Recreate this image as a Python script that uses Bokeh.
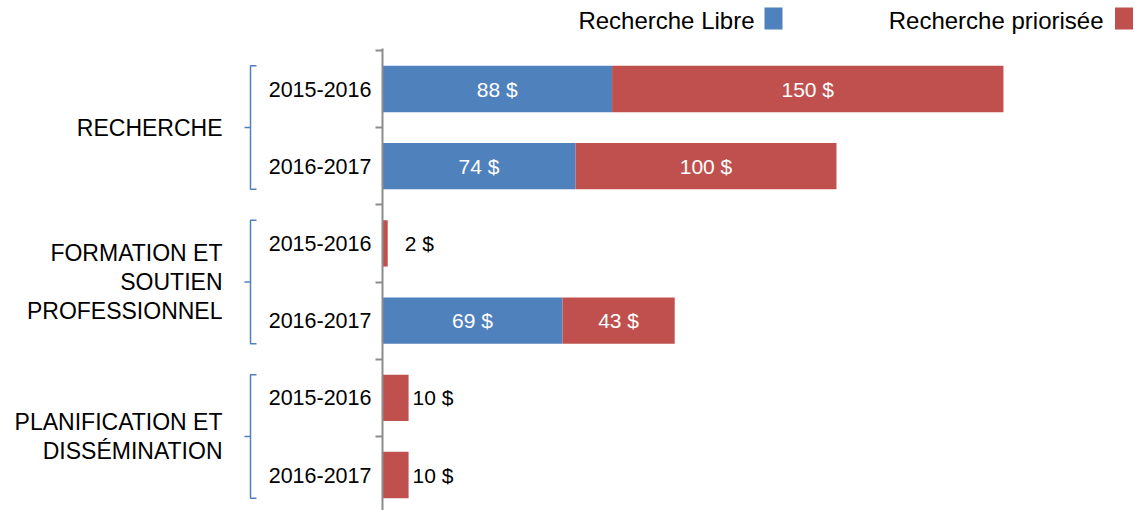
from bokeh.plotting import figure
from bokeh.models import Range1d, LinearAxis, FixedTicker, ColumnDataSource
from bokeh.core.properties import value
from bokeh.embed import file_html
from bokeh.resources import INLINE

# ---- data ----
groups = ["RECHERCHE", "FORMATION ET\nSOUTIEN\nPROFESSIONNEL", "PLANIFICATION ET\nDISSÉMINATION"]
years = ["2015-2016", "2016-2017", "2015-2016", "2016-2017", "2015-2016", "2016-2017"]
libre = [88, 74, 0, 69, 0, 0]
priorisee = [150, 100, 2, 43, 10, 10]
series = ["Recherche Libre", "Recherche priorisée"]
colors = ["#4F81BD", "#C0504D"]

# ---- layout constants (figure pixels) ----
W, H = 1135, 510
K = 2.609      # px per value unit
ROW = 77.2     # px per category row
X0PX = 382     # px of value 0
Y0PX = 88.5    # px of first row centre
FONT = value("Liberation Sans")


def dx(px):
    return (px - X0PX) / K


def dy(py):
    return (py - Y0PX) / ROW


p = figure(width=W, height=H, x_range=Range1d(dx(0), dx(W)), y_range=Range1d(dy(H), dy(0)),
           output_backend="svg", toolbar_location=None, x_axis_location=None,
           y_axis_location=None, min_border=0, outline_line_color=None)
p.xgrid.grid_line_color = None
p.ygrid.grid_line_color = None
p.background_fill_color = "white"

rows = list(range(len(years)))
totals = [a + b for a, b in zip(libre, priorisee)]
src = ColumnDataSource(dict(y=rows, libre=libre, total=totals))
p.hbar(y="y", left=0, right="libre", height=0.6, fill_color=colors[0], line_color=None, source=src)
p.hbar(y="y", left="libre", right="total", height=0.6, fill_color=colors[1], line_color=None, source=src)

# value labels
in_x, in_y, in_t = [], [], []
out_x, out_y, out_t = [], [], []
for i in rows:
    segs = [(0, libre[i]), (libre[i], totals[i])]
    for (a, b) in segs:
        v = b - a
        if v <= 0:
            continue
        if v >= 20:
            in_x.append((a + b) / 2); in_y.append(i); in_t.append(f"{v} $")
        else:
            out_x.append(max(b, 7)); out_y.append(i); out_t.append(f"{v} $")
p.text(x=in_x, y=in_y, text=in_t, text_font=FONT, text_font_size="21px", text_color="white",
       text_align="center", text_baseline="middle")
p.text(x=out_x, y=out_y, text=out_t, text_font=FONT, text_font_size="21px", text_color="black",
       text_align="left", text_baseline="middle", x_offset=4)

# category axis
ax = LinearAxis(fixed_location=0,
                ticker=FixedTicker(ticks=rows, minor_ticks=[r - 0.5 for r in rows] + [rows[-1] + 0.5]),
                major_label_overrides={i: years[i] for i in rows},
                bounds=(-0.52, dy(H)))
ax.axis_line_color = "#8C8C8C"
ax.axis_line_width = 2
ax.major_tick_line_color = None
ax.major_tick_in = 0
ax.major_tick_out = 0
ax.minor_tick_line_color = "#8C8C8C"
ax.minor_tick_line_width = 2
ax.minor_tick_in = 0
ax.minor_tick_out = 7
ax.major_label_standoff = 4
ax.major_label_text_font = "Liberation Sans"
ax.major_label_text_font_size = "21.5px"
ax.major_label_text_color = "black"
p.add_layout(ax, "left")

# group labels and brackets
gc = [(2 * g + 2 * g + 1) / 2 for g in range(len(groups))]
p.text(x=[dx(222)] * len(groups), y=gc, text=groups, text_font=FONT, text_font_size="23px",
       text_color="black", text_align="right", text_baseline="middle", text_line_height=1.1)
vx, hx, mx = dx(250), dx(256), dx(244)
xs, ys = [], []
for c in gc:
    xs.append([hx, vx, vx, hx]); ys.append([c - 0.8, c - 0.8, c + 0.8, c + 0.8])
p.multi_line(xs=xs, ys=ys, line_color="#4F81BD", line_width=1.5)
p.segment(x0=[mx] * len(gc), y0=gc, x1=[vx] * len(gc), y1=gc, line_color="#4F81BD", line_width=1.5)

# legend (label then swatch)
leg_text_right = [754, 1103]
leg_sw = [773, 1123.5]
p.text(x=[dx(v) for v in leg_text_right], y=[dy(20)] * 2, text=series, text_font=FONT,
       text_font_size="24px", text_color="black", text_align="right", text_baseline="middle")
p.rect(x=[dx(v) for v in leg_sw], y=[dy(18)] * 2, width=18, height=22, width_units="screen",
       height_units="screen", fill_color=colors, line_color=None)

open("out.html", "w").write(file_html(p, INLINE))
